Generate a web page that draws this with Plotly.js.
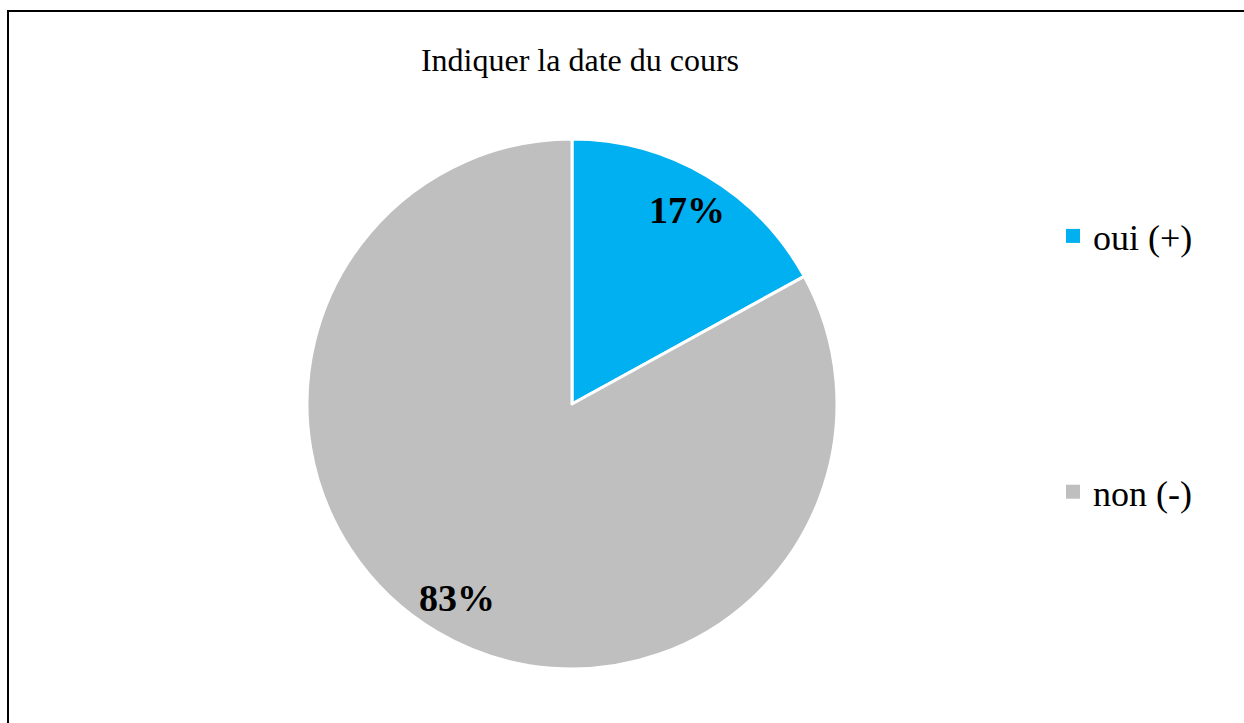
<!DOCTYPE html>
<html>
<head>
<meta charset="utf-8">
<script src="https://cdn.plot.ly/plotly-3.0.1.min.js"></script>
<style>
html,body{margin:0;padding:0;background:#fff;overflow:hidden;}
#chart{width:1244px;height:723px;}
</style>
</head>
<body>
<div id="chart"></div>
<script>
const categories = ["oui (+)", "non (-)"];
const values = [17, 83];
const colors = ["#00B0F0", "#BFBFBF"];
const chartTitle = "Indiquer la date du cours";

const W = 1244, H = 723;
const serif = "Liberation Serif, Times New Roman, serif";

// pie geometry (pixels)
const CX = 572, CY = 404, R = 265;

const pie = {
  type: "pie",
  labels: categories,
  values: values,
  sort: false,
  direction: "clockwise",
  rotation: 0,
  marker: {colors: colors, line: {color: "#ffffff", width: 3}},
  textinfo: "none",
  showlegend: false,
  hoverinfo: "label+percent",
  domain: {x: [(CX - R) / W, (CX + R) / W], y: [1 - (CY + R) / H, 1 - (CY - R) / H]}
};

// labels placed near the outer end of each slice, computed from the values
const total = values.reduce((a, b) => a + b, 0);
let acc = 0;
const labelAnnotations = values.map((v) => {
  const mid = (acc + v / 2) / total * 2 * Math.PI;
  acc += v;
  const r = 0.85 * R;
  return {
    xref: "paper", yref: "paper",
    x: (CX + r * Math.sin(mid)) / W,
    y: 1 - (CY - r * Math.cos(mid)) / H,
    xanchor: "center", yanchor: "middle",
    text: "<b>" + Math.round(v / total * 100) + "%</b>",
    showarrow: false,
    font: {family: serif, size: 38, color: "#000000"}
  };
});

// legend entries (one per category), drawn by the library's legend
const legendTraces = categories.map((c, i) => ({
  type: "scatter",
  mode: "markers",
  x: [null],
  y: [null],
  name: c,
  legendgroup: "g" + i,
  marker: {symbol: "square", size: 14, color: colors[i]},
  hoverinfo: "skip",
  showlegend: true
}));

const layout = {
  width: W,
  height: H,
  margin: {l: 0, r: 0, t: 0, b: 0},
  paper_bgcolor: "#ffffff",
  plot_bgcolor: "#ffffff",
  font: {family: serif, color: "#000000"},
  title: {
    text: chartTitle,
    font: {family: serif, size: 32, color: "#000000"},
    x: 580 / W, xanchor: "center", xref: "container",
    y: 1 - 60 / H, yanchor: "middle", yref: "container"
  },
  xaxis: {visible: false},
  yaxis: {visible: false},
  showlegend: true,
  legend: {
    x: 1053 / W, xanchor: "left",
    y: 1 - 206 / H, yanchor: "top",
    font: {family: serif, size: 36, color: "#000000"},
    traceorder: "grouped",
    tracegroupgap: 206,
    bgcolor: "rgba(0,0,0,0)",
    itemclick: false
  },
  annotations: labelAnnotations,
  shapes: [{
    type: "rect", xref: "paper", yref: "paper",
    x0: 8 / W, x1: 1.05, y0: -0.05, y1: 1 - 11 / H,
    line: {color: "#000000", width: 2}, fillcolor: "rgba(0,0,0,0)"
  }]
};

Plotly.newPlot("chart", [pie].concat(legendTraces), layout, {displayModeBar: false, staticPlot: true});
</script>
</body>
</html>
